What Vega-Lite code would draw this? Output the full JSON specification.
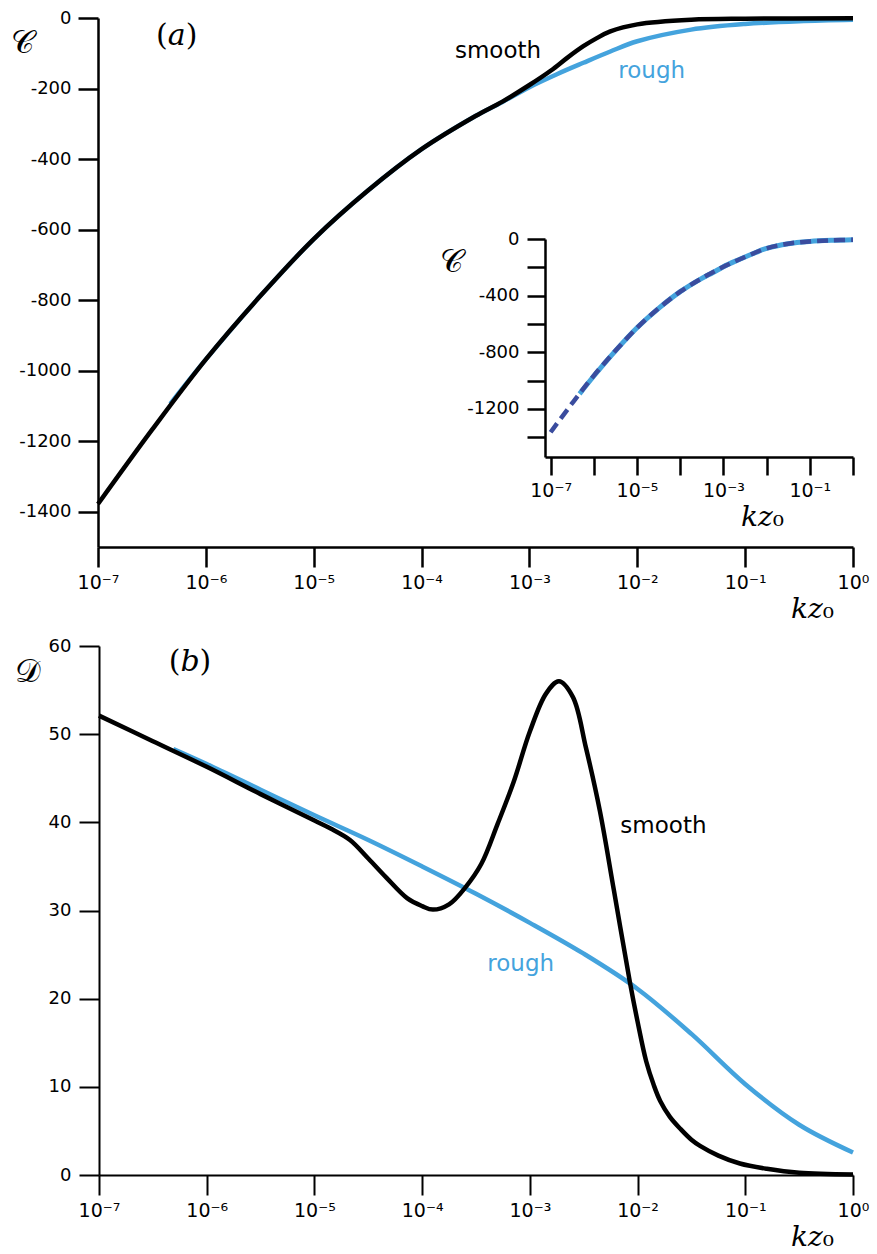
{
  "$schema": "https://vega.github.io/schema/vega-lite/v6.json",
  "width": 877,
  "height": 1254,
  "autosize": {"type": "none"},
  "padding": 0,
  "background": "white",
  "config": {
    "view": {"stroke": null},
    "axis": {"grid": false, "domainColor": "black", "tickColor": "black", "labelColor": "black", "labelFont": "DejaVu Sans", "labelFontSize": 18, "titleColor": "black", "titleFontWeight": "normal", "tickSize": 20, "domainWidth": 2.5, "tickWidth": 2.5, "labelFlush": false, "labelOverlap": false}
  },
  "datasets": {
    "smoothA": [
      {"k": 1e-7, "c": -1378}, {"k": 3.162e-7, "c": -1168}, {"k": 1e-6, "c": -968}, {"k": 3.162e-6, "c": -790},
      {"k": 1e-5, "c": -627}, {"k": 3.162e-5, "c": -490}, {"k": 1e-4, "c": -372}, {"k": 3.162e-4, "c": -278},
      {"k": 5.623e-4, "c": -237}, {"k": 1e-3, "c": -190}, {"k": 1.585e-3, "c": -149}, {"k": 2.239e-3, "c": -113},
      {"k": 3.162e-3, "c": -80}, {"k": 4.217e-3, "c": -57}, {"k": 5.623e-3, "c": -38}, {"k": 1e-2, "c": -18},
      {"k": 3.162e-2, "c": -5}, {"k": 0.1, "c": -2}, {"k": 1, "c": -1}
    ],
    "roughA": [
      {"k": 4.677e-7, "c": -1094}, {"k": 1e-6, "c": -968}, {"k": 3.162e-6, "c": -790}, {"k": 1e-5, "c": -627},
      {"k": 3.162e-5, "c": -490}, {"k": 1e-4, "c": -372}, {"k": 3.162e-4, "c": -278}, {"k": 5.623e-4, "c": -238},
      {"k": 1e-3, "c": -196}, {"k": 1.778e-3, "c": -160}, {"k": 3.162e-3, "c": -127}, {"k": 5.623e-3, "c": -95},
      {"k": 1e-2, "c": -66}, {"k": 3.162e-2, "c": -33}, {"k": 0.1, "c": -17}, {"k": 0.3162, "c": -9}, {"k": 1, "c": -5}
    ],
    "dashInset": [
      {"k": 1e-7, "c": -1365}, {"k": 3.162e-7, "c": -1160}, {"k": 1e-6, "c": -965}, {"k": 3.162e-6, "c": -790},
      {"k": 1e-5, "c": -627}, {"k": 3.162e-5, "c": -490}, {"k": 1e-4, "c": -372}, {"k": 3.162e-4, "c": -278},
      {"k": 1e-3, "c": -196}, {"k": 3.162e-3, "c": -127}, {"k": 1e-2, "c": -66}, {"k": 3.162e-2, "c": -33},
      {"k": 0.1, "c": -17}, {"k": 0.3162, "c": -9}, {"k": 1, "c": -5}
    ],
    "smoothB": [
      {"k": 1e-7, "d": 52.1}, {"k": 3.162e-7, "d": 49.2}, {"k": 1e-6, "d": 46.3}, {"k": 3.162e-6, "d": 43.2},
      {"k": 1e-5, "d": 40.2}, {"k": 1.413e-5, "d": 39.3}, {"k": 2.138e-5, "d": 38.0}, {"k": 3.162e-5, "d": 35.9},
      {"k": 4.677e-5, "d": 33.7}, {"k": 7.244e-5, "d": 31.4}, {"k": 1e-4, "d": 30.5}, {"k": 1.259e-4, "d": 30.1},
      {"k": 1.778e-4, "d": 30.7}, {"k": 2.512e-4, "d": 32.6},
      {"k": 3.548e-4, "d": 35.3}, {"k": 5.012e-4, "d": 39.8}, {"k": 7.079e-4, "d": 44.6}, {"k": 1e-3, "d": 50.3},
      {"k": 1.413e-3, "d": 54.6}, {"k": 1.862e-3, "d": 56.0}, {"k": 2.512e-3, "d": 54.2}, {"k": 3.311e-3, "d": 48.5},
      {"k": 4.467e-3, "d": 41.3}, {"k": 6.026e-3, "d": 32.3}, {"k": 8.511e-3, "d": 21.8}, {"k": 1e-2, "d": 17.4},
      {"k": 1.202e-2, "d": 12.9}, {"k": 1.413e-2, "d": 10.2}, {"k": 1.622e-2, "d": 8.4}, {"k": 1.995e-2, "d": 6.6},
      {"k": 2.512e-2, "d": 5.2}, {"k": 3.162e-2, "d": 4.0}, {"k": 3.802e-2, "d": 3.3}, {"k": 5.623e-2, "d": 2.2},
      {"k": 8.913e-2, "d": 1.3}, {"k": 0.1585, "d": 0.7}, {"k": 0.3162, "d": 0.25}, {"k": 1, "d": 0.05}
    ],
    "roughB": [
      {"k": 4.898e-7, "d": 48.3}, {"k": 1e-6, "d": 46.6}, {"k": 3.162e-6, "d": 43.7}, {"k": 1e-5, "d": 40.8},
      {"k": 3.162e-5, "d": 38.0}, {"k": 1e-4, "d": 35.0}, {"k": 3.162e-4, "d": 31.9}, {"k": 1e-3, "d": 28.6},
      {"k": 3.162e-3, "d": 25.1}, {"k": 1e-2, "d": 21.1}, {"k": 3.162e-2, "d": 16.0}, {"k": 0.1, "d": 10.3},
      {"k": 0.3162, "d": 5.7}, {"k": 1, "d": 2.55}
    ],
    "textA": [
      {"k": 2.04e-4, "c": -114.5, "t": "smooth"},
      {"k": 6.67e-3, "c": -171, "t": "rough"}
    ],
    "tagA": [{"k": 5.37e-7, "c": -50, "t": "(𝑎)"}],
    "textB": [
      {"k": 6.92e-3, "d": 38.8, "t": "smooth"},
      {"k": 4.03e-4, "d": 23.1, "t": "rough"}
    ],
    "tagB": [{"k": 7.0e-7, "d": 58.2, "t": "(𝑏)"}]
  },
  "resolve": {"scale": {"x": "independent", "y": "independent"}},
  "layer": [
    {
      "layer": [
        {
          "data": {"name": "roughA"},
          "mark": {"type": "line", "color": "#44a3dd", "strokeWidth": 4.5, "interpolate": "catmull-rom"},
          "encoding": {
            "x": {"field": "k", "type": "quantitative",
              "scale": {"type": "log", "domain": [1e-7, 1], "range": [98, 853], "nice": false},
              "axis": {"orient": "bottom", "offset": -707, "values": [1e-7, 1e-6, 1e-5, 1e-4, 0.001, 0.01, 0.1, 1],
                "labelExpr": "'10' + (datum.value < 0.5 ? '⁻' : '') + substring('⁰¹²³⁴⁵⁶⁷', round(abs(log(datum.value)/LN10)), round(abs(log(datum.value)/LN10)) + 1)",
                "labelFontSize": 19, "labelPadding": 6,
                "title": "𝑘𝑧₀", "titleFont": "DejaVu Serif", "titleFontSize": 28,
                "titleX": 812, "titleY": 62, "titleAlign": "center", "titleBaseline": "middle", "titleAngle": 0}},
            "y": {"field": "c", "type": "quantitative",
              "scale": {"domain": [-1500, 0], "range": [547, 18], "nice": false, "zero": false},
              "axis": {"orient": "left", "offset": -98, "values": [-1400, -1200, -1000, -800, -600, -400, -200, 0],
                "labelExpr": "'' + datum.value", "labelPadding": 7, "labelBaseline": "middle",
                "title": "𝒞", "titleFont": "DejaVu Serif", "titleFontSize": 32, "titleAngle": 0,
                "titleX": -76, "titleY": 42, "titleAlign": "center", "titleBaseline": "middle"}}
          }
        },
        {
          "data": {"name": "smoothA"},
          "mark": {"type": "line", "color": "#000000", "strokeWidth": 4.5, "interpolate": "catmull-rom"},
          "encoding": {
            "x": {"field": "k", "type": "quantitative"},
            "y": {"field": "c", "type": "quantitative"}
          }
        },
        {
          "data": {"name": "textA"},
          "mark": {"type": "text", "font": "DejaVu Sans", "fontSize": 23, "align": "left", "baseline": "alphabetic"},
          "encoding": {
            "x": {"field": "k", "type": "quantitative"},
            "y": {"field": "c", "type": "quantitative"},
            "text": {"field": "t"},
            "color": {"field": "t", "type": "nominal", "scale": {"domain": ["smooth", "rough"], "range": ["#000000", "#44a3dd"]}, "legend": null}
          }
        },
        {
          "data": {"name": "tagA"},
          "mark": {"type": "text", "font": "DejaVu Serif", "fontSize": 30, "align": "center", "baseline": "middle", "color": "#000000"},
          "encoding": {
            "x": {"field": "k", "type": "quantitative"},
            "y": {"field": "c", "type": "quantitative"},
            "text": {"field": "t"}
          }
        }
      ]
    },
    {
      "layer": [
        {
          "data": {"name": "roughA"},
          "mark": {"type": "line", "color": "#44a3dd", "strokeWidth": 5, "interpolate": "catmull-rom"},
          "encoding": {
            "x": {"field": "k", "type": "quantitative",
              "scale": {"type": "log", "domain": [7.41e-8, 1], "range": [545, 853], "nice": false},
              "axis": {"orient": "bottom", "offset": -797, "values": [1e-7, 1e-6, 1e-5, 1e-4, 0.001, 0.01, 0.1, 1],
                "tickSize": 18, "labelPadding": 6, "labelFontSize": 19,
                "labelExpr": "round(abs(log(datum.value)/LN10)) % 2 == 1 ? '10' + (datum.value < 0.5 ? '⁻' : '') + substring('⁰¹²³⁴⁵⁶⁷', round(abs(log(datum.value)/LN10)), round(abs(log(datum.value)/LN10)) + 1) : ''",
                "title": "𝑘𝑧₀", "titleFont": "DejaVu Serif", "titleFontSize": 28,
                "titleX": 762, "titleY": 60, "titleAlign": "center", "titleBaseline": "middle", "titleAngle": 0}},
            "y": {"field": "c", "type": "quantitative",
              "scale": {"domain": [-1540, 0], "range": [457, 239], "nice": false, "zero": false},
              "axis": {"orient": "left", "offset": -545, "values": [-1400, -1200, -1000, -800, -600, -400, -200, 0],
                "tickSize": 18, "labelPadding": 8, "labelBaseline": "middle",
                "labelExpr": "datum.value % 400 == 0 ? '' + datum.value : ''",
                "title": "𝒞", "titleFont": "DejaVu Serif", "titleFontSize": 32, "titleAngle": 0,
                "titleX": -94, "titleY": 261, "titleAlign": "center", "titleBaseline": "middle"}}
          }
        },
        {
          "data": {"name": "dashInset"},
          "mark": {"type": "line", "color": "#3a4c9e", "strokeWidth": 4.5, "strokeDash": [11, 6], "interpolate": "catmull-rom"},
          "encoding": {
            "x": {"field": "k", "type": "quantitative"},
            "y": {"field": "c", "type": "quantitative"}
          }
        }
      ]
    },
    {
      "layer": [
        {
          "data": {"name": "roughB"},
          "mark": {"type": "line", "color": "#44a3dd", "strokeWidth": 4.5, "interpolate": "catmull-rom"},
          "encoding": {
            "x": {"field": "k", "type": "quantitative",
              "scale": {"type": "log", "domain": [1e-7, 1], "range": [99, 853], "nice": false},
              "axis": {"orient": "bottom", "offset": -79, "values": [1e-7, 1e-6, 1e-5, 1e-4, 0.001, 0.01, 0.1, 1],
                "labelExpr": "'10' + (datum.value < 0.5 ? '⁻' : '') + substring('⁰¹²³⁴⁵⁶⁷', round(abs(log(datum.value)/LN10)), round(abs(log(datum.value)/LN10)) + 1)",
                "labelFontSize": 19, "labelPadding": 6, "domainWidth": 2, "tickWidth": 2,
                "title": "𝑘𝑧₀", "titleFont": "DejaVu Serif", "titleFontSize": 28,
                "titleX": 812, "titleY": 62, "titleAlign": "center", "titleBaseline": "middle", "titleAngle": 0}},
            "y": {"field": "d", "type": "quantitative",
              "scale": {"domain": [0, 60], "range": [1175, 646], "nice": false},
              "axis": {"orient": "left", "offset": -99, "values": [0, 10, 20, 30, 40, 50, 60],
                "labelPadding": 8, "labelBaseline": "middle", "domainWidth": 2, "tickWidth": 2,
                "title": "𝒟", "titleFont": "DejaVu Serif", "titleFontSize": 32, "titleAngle": 0,
                "titleX": -72, "titleY": 671, "titleAlign": "center", "titleBaseline": "middle"}}
          }
        },
        {
          "data": {"name": "smoothB"},
          "mark": {"type": "line", "color": "#000000", "strokeWidth": 4.5, "interpolate": "catmull-rom"},
          "encoding": {
            "x": {"field": "k", "type": "quantitative"},
            "y": {"field": "d", "type": "quantitative"}
          }
        },
        {
          "data": {"name": "textB"},
          "mark": {"type": "text", "font": "DejaVu Sans", "fontSize": 23, "align": "left", "baseline": "alphabetic"},
          "encoding": {
            "x": {"field": "k", "type": "quantitative"},
            "y": {"field": "d", "type": "quantitative"},
            "text": {"field": "t"},
            "color": {"field": "t", "type": "nominal", "scale": {"domain": ["smooth", "rough"], "range": ["#000000", "#44a3dd"]}, "legend": null}
          }
        },
        {
          "data": {"name": "tagB"},
          "mark": {"type": "text", "font": "DejaVu Serif", "fontSize": 30, "align": "center", "baseline": "middle", "color": "#000000"},
          "encoding": {
            "x": {"field": "k", "type": "quantitative"},
            "y": {"field": "d", "type": "quantitative"},
            "text": {"field": "t"}
          }
        }
      ]
    }
  ]
}
